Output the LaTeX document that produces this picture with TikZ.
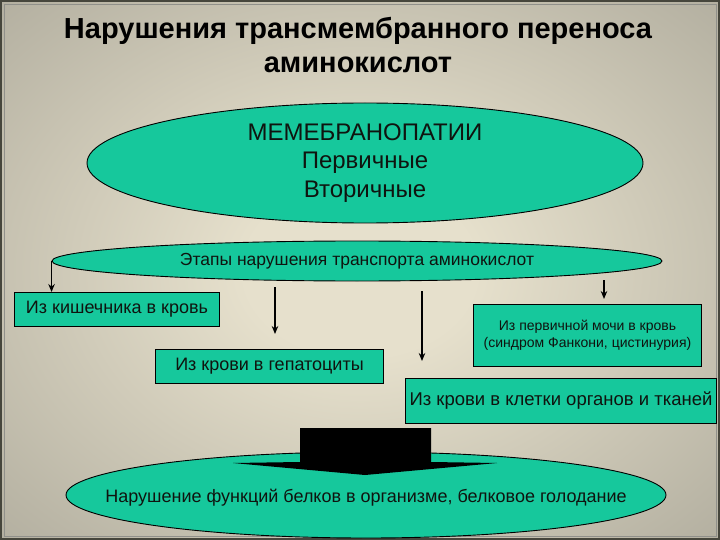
\documentclass[tikz,border=0pt]{standalone}
\usepackage{fontspec}
\setmainfont{Liberation Sans}
\usetikzlibrary{shapes.geometric,arrows.meta}
\definecolor{teal1}{RGB}{22,200,156}
\definecolor{bgin}{RGB}{230,224,204}
\definecolor{bgout}{RGB}{156,153,140}
\definecolor{frm}{RGB}{70,70,60}
\definecolor{txt}{RGB}{15,20,15}
\pgfdeclareradialshading{bgshade}{\pgfpoint{0bp}{0bp}}{color(0bp)=(bgin); color(8bp)=(bgin); color(48bp)=(bgout); color(75bp)=(bgout)}
\tikzset{
  oval/.style={ellipse, draw=black, line width=0.9pt, fill=teal1, inner sep=0pt, text=txt, align=center},
  stagebox/.style={rectangle, draw=black, line width=1pt, fill=teal1, inner sep=0pt, text=txt, align=center, anchor=north west},
  arr/.style={line width=1.4pt, draw=black, -{Stealth[length=8pt,width=6.5pt]}},
}
\begin{document}
\begin{tikzpicture}[x=1pt,y=-1pt]
\useasboundingbox (0,0) rectangle (720,540);
\shade[shading=bgshade] (0,0) rectangle (720,540);
\draw[frm, line width=2pt] (1,1) rectangle (719,539);
\draw[frm!60, line width=0.6pt] (4,4) rectangle (716,536);

% title
\node[font=\bfseries\fontsize{29}{34.5}\selectfont, align=center] (title) at (358,45)
  {Нарушения трансмембранного переноса\\аминокислот};

% top ellipse
\node[oval, minimum width=556pt, minimum height=120pt, font=\fontsize{24}{28.5}\selectfont] (memb) at (365,163)
  {МЕМЕБРАНОПАТИИ\\Первичные\\Вторичные};

% stages ellipse
\node[oval, minimum width=610pt, minimum height=40pt, font=\fontsize{17.5}{20}\selectfont] (stages) at (357,261)
  {Этапы нарушения транспорта аминокислот};

% boxes
\node[stagebox, minimum width=205pt, minimum height=34pt, font=\fontsize{18}{20}\selectfont] (b1) at (14,292)
  {Из кишечника в кровь};
\node[stagebox, minimum width=228pt, minimum height=34pt, font=\fontsize{18}{20}\selectfont] (b2) at (155,349)
  {Из крови в гепатоциты};
\node[stagebox, minimum width=228pt, minimum height=62pt, font=\fontsize{14}{17}\selectfont] (b3) at (473,304)
  {Из первичной мочи в кровь\\(синдром Фанкони, цистинурия)};
\node[stagebox, minimum width=311pt, minimum height=45pt, font=\fontsize{18.5}{20}\selectfont] (b4) at (405,378)
  {Из крови в клетки органов и тканей};

% arrows
\coordinate (a2s) at (275,287);
\coordinate (a2e) at (275,334);
\coordinate (a3s) at (422,291);
\coordinate (a3e) at (422,361);
\coordinate (a4s) at (604,280);
\coordinate (a4e) at (604,299);
\draw[arr] (stages.west) -- (stages.west |- b1.north);
\draw[arr] (a2s) -- (a2e);
\draw[arr] (a3s) -- (a3e);
\draw[arr] (a4s) -- (a4e);

% bottom ellipse
\node[oval, minimum width=600pt, minimum height=86pt] (result) at (366,495) {};
\node[font=\fontsize{18}{20}\selectfont, text=txt] (resulttext) at ([yshift=-3pt]result.center)
  {Нарушение функций белков в организме, белковое голодание};

% big block arrow
\fill[black] (300,428) -- (431,428) -- (431,462) -- (497,463) -- (365,475) -- (233,463) -- (300,462) -- cycle;
\end{tikzpicture}
\end{document}
